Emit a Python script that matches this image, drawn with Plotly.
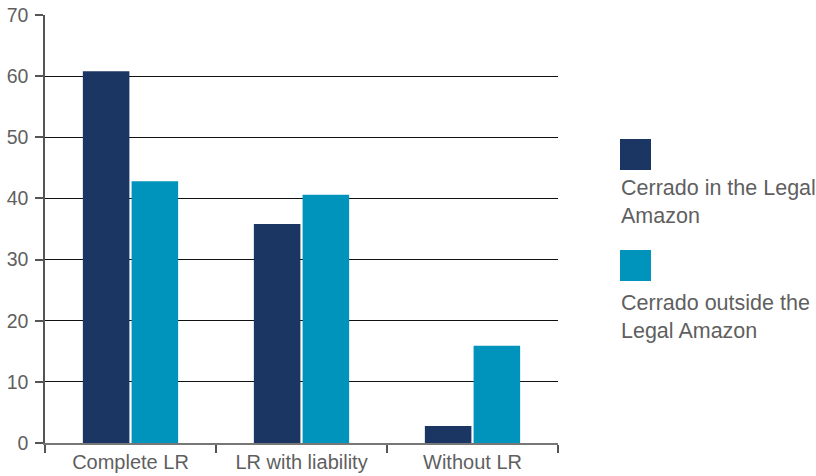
import plotly.graph_objects as go

categories = ["Complete LR", "LR with liability", "Without LR"]
series_names = ["Cerrado in the Legal<br>Amazon", "Cerrado outside the<br>Legal Amazon"]
in_legal_amazon = [60.8, 35.8, 2.8]
outside_legal_amazon = [42.8, 40.6, 15.9]
y_ticks = [0, 10, 20, 30, 40, 50, 60, 70]

colors = ["#1c3664", "#0093bb"]
font_family = "Liberation Sans, Arial, sans-serif"
text_color = "#5f5f5f"

L, R, T, B = 45, 558, 15, 443
PW, PH = R - L, B - T

fig = go.Figure()
fig.add_trace(go.Bar(x=categories, y=in_legal_amazon, marker_color=colors[0],
                     marker_line_width=0, name=series_names[0]))
fig.add_trace(go.Bar(x=categories, y=outside_legal_amazon, marker_color=colors[1],
                     marker_line_width=0, name=series_names[1]))

fig.update_layout(
    width=816, height=476,
    margin=dict(l=L, r=816 - R, t=T, b=476 - B),
    paper_bgcolor="white", plot_bgcolor="white",
    barmode="group", bargap=0.43, bargroupgap=0.045,
    showlegend=False,
    font=dict(family=font_family, size=18, color=text_color),
)
fig.update_yaxes(
    range=[0, 70], tickvals=y_ticks, showgrid=True, gridcolor="#111111", gridwidth=1.2,
    showline=True, linecolor="#555555", linewidth=1.5,
    ticks="outside", ticklen=8, tickcolor="#555555", tickwidth=1.5,
    ticklabelstandoff=3,
    zeroline=False, automargin=False, tickfont=dict(size=19.5, color=text_color),
)
fig.update_xaxes(
    showline=True, linecolor="#777777", linewidth=1.5,
    ticks="outside", tickson="boundaries", ticklen=8, tickcolor="#555555", tickwidth=1.5,
    automargin=False, tickfont=dict(size=20, color=text_color),
)

# custom legend: square swatch above wrapped text
swatch_tops = [139, 250]
text_tops = [174, 289]
for i, name in enumerate(series_names):
    top = swatch_tops[i]
    fig.add_shape(type="rect", xref="paper", yref="paper",
                  x0=(620 - L) / PW, x1=(651 - L) / PW,
                  y0=(B - top) / PH, y1=(B - (top + 31)) / PH,
                  fillcolor=colors[i], line_width=0)
    fig.add_annotation(xref="paper", yref="paper",
                       x=(619 - L) / PW, y=(B - text_tops[i]) / PH,
                       xanchor="left", yanchor="top", align="left",
                       text=name, showarrow=False,
                       font=dict(size=21.5, color=text_color, family=font_family))

fig.write_html("out.html")
